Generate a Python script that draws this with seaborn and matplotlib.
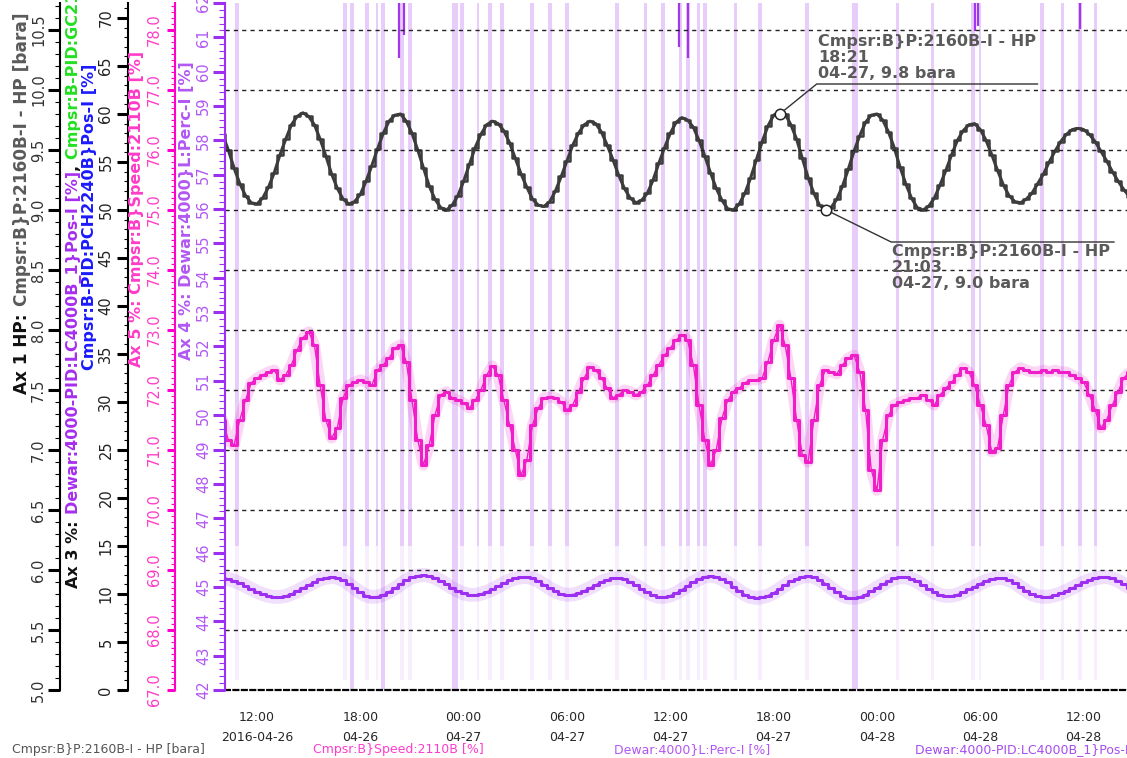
import numpy as np
import pandas as pd
import matplotlib
matplotlib.use("Agg")
import matplotlib.pyplot as plt
import matplotlib.dates as mdates
from matplotlib.ticker import FixedLocator, MultipleLocator, FormatStrFormatter, FuncFormatter
from matplotlib.transforms import IdentityTransform
from matplotlib.lines import Line2D
import seaborn as sns

sns.set_style("white")
plt.rcParams["font.family"] = ["DejaVu Sans"]

# ---------------------------------------------------------------- data
# archive samples, one every 20 minutes from 2016-04-26 10:00
SAMPLE_START = "2016-04-26 10:00"
SAMPLE_STEP = "20min"

hp_bara = [
    9.63, 9.50, 9.35, 9.22, 9.12, 9.06, 9.05, 9.10, 9.19, 9.31, 9.46, 9.59,
    9.71, 9.78, 9.81, 9.78, 9.71, 9.59, 9.45, 9.30, 9.18, 9.09, 9.05, 9.07,
    9.13, 9.24, 9.37, 9.51, 9.64, 9.74, 9.79, 9.80, 9.74, 9.64, 9.50, 9.35,
    9.20, 9.09, 9.02, 9.00, 9.04, 9.12, 9.24, 9.38, 9.52, 9.63, 9.71, 9.74,
    9.72, 9.66, 9.56, 9.43, 9.30, 9.19, 9.09, 9.04, 9.03, 9.07, 9.16, 9.28,
    9.41, 9.54, 9.64, 9.71, 9.74, 9.72, 9.65, 9.54, 9.42, 9.29, 9.18, 9.10,
    9.06, 9.08, 9.14, 9.25, 9.39, 9.52, 9.64, 9.73, 9.77, 9.75, 9.69, 9.58,
    9.45, 9.31, 9.18, 9.08, 9.01, 9.00, 9.05, 9.14, 9.27, 9.42, 9.57, 9.70,
    9.79, 9.82, 9.80, 9.71, 9.59, 9.43, 9.27, 9.14, 9.04, 9.00, 9.02, 9.09,
    9.20, 9.34, 9.49, 9.62, 9.73, 9.79, 9.80, 9.75, 9.65, 9.52, 9.36, 9.22,
    9.10, 9.02, 9.00, 9.03, 9.10, 9.21, 9.33, 9.46, 9.58, 9.66, 9.71, 9.72,
    9.67, 9.58, 9.46, 9.33, 9.21, 9.12, 9.07, 9.06, 9.09, 9.14, 9.22, 9.30,
    9.40, 9.49, 9.57, 9.63, 9.67, 9.68, 9.67, 9.63, 9.57, 9.49, 9.41, 9.32,
    9.24, 9.17, 9.11,
]

speed_pct = [
    71.50, 71.17, 71.08, 71.50, 71.83, 72.12, 72.20, 72.25, 72.30, 72.33, 72.17, 72.25,
    72.42, 72.67, 72.87, 72.97, 72.75, 72.08, 71.50, 71.20, 71.37, 71.87, 72.08, 72.13,
    72.17, 72.13, 72.08, 72.33, 72.42, 72.53, 72.70, 72.75, 72.47, 71.83, 71.17, 70.75,
    71.08, 71.58, 71.92, 71.97, 71.87, 71.83, 71.78, 71.70, 71.83, 72.00, 72.25, 72.40,
    72.25, 71.83, 71.42, 71.00, 70.58, 70.83, 71.42, 71.70, 71.87, 71.88, 71.87, 71.80,
    71.67, 71.75, 71.97, 72.20, 72.38, 72.33, 72.20, 72.03, 71.87, 71.92, 72.00, 71.97,
    71.92, 71.97, 72.08, 72.25, 72.42, 72.58, 72.70, 72.83, 72.92, 72.83, 72.42, 71.75,
    71.17, 70.75, 71.00, 71.53, 71.83, 71.97, 72.03, 72.12, 72.17, 72.17, 72.20, 72.47,
    72.83, 73.08, 72.75, 72.20, 71.50, 70.92, 70.80, 71.50, 72.08, 72.33, 72.30, 72.27,
    72.42, 72.53, 72.58, 72.30, 71.67, 70.67, 70.33, 71.17, 71.58, 71.75, 71.80, 71.83,
    71.87, 71.87, 71.92, 71.83, 71.75, 71.92, 72.03, 72.13, 72.25, 72.37, 72.30, 72.08,
    71.75, 71.42, 70.97, 71.03, 71.58, 72.08, 72.30, 72.37, 72.33, 72.30, 72.30, 72.33,
    72.30, 72.33, 72.30, 72.30, 72.25, 72.20, 72.13, 71.92, 71.67, 71.37, 71.50, 71.75,
    71.97, 72.20, 72.30,
]

level_pct = [
    45.26, 45.23, 45.18, 45.11, 45.03, 44.94, 44.86, 44.79, 44.74, 44.71, 44.71, 44.74,
    44.80, 44.88, 44.97, 45.06, 45.14, 45.22, 45.27, 45.29, 45.27, 45.20, 45.09, 44.96,
    44.84, 44.75, 44.71, 44.72, 44.77, 44.86, 44.96, 45.08, 45.19, 45.28, 45.33, 45.35,
    45.32, 45.27, 45.18, 45.08, 44.97, 44.88, 44.81, 44.77, 44.77, 44.80, 44.86, 44.93,
    45.02, 45.11, 45.19, 45.25, 45.28, 45.29, 45.25, 45.18, 45.07, 44.96, 44.87, 44.80,
    44.77, 44.78, 44.82, 44.89, 44.97, 45.06, 45.15, 45.21, 45.25, 45.26, 45.23, 45.15,
    45.05, 44.94, 44.84, 44.76, 44.71, 44.71, 44.75, 44.82, 44.92, 45.03, 45.14, 45.23,
    45.30, 45.32, 45.30, 45.23, 45.13, 45.01, 44.89, 44.78, 44.71, 44.68, 44.70, 44.75,
    44.83, 44.94, 45.05, 45.16, 45.24, 45.30, 45.32, 45.29, 45.21, 45.10, 44.97, 44.85,
    44.75, 44.69, 44.68, 44.71, 44.78, 44.87, 44.98, 45.08, 45.17, 45.25, 45.28, 45.28,
    45.24, 45.16, 45.05, 44.94, 44.84, 44.77, 44.74, 44.74, 44.78, 44.85, 44.93, 45.01,
    45.10, 45.18, 45.23, 45.26, 45.25, 45.20, 45.12, 45.00, 44.89, 44.79, 44.73, 44.71,
    44.72, 44.76, 44.81, 44.89, 44.97, 45.06, 45.13, 45.20, 45.25, 45.28, 45.29, 45.25,
    45.18, 45.08, 44.98,
]

# LC4000B_1 valve output: bins whose min/max envelope reaches into the axis
dip_times = [
    "2016-04-26 10:50", "2016-04-26 17:07", "2016-04-26 17:31", "2016-04-26 18:23",
    "2016-04-26 18:58", "2016-04-26 19:19", "2016-04-26 20:25", "2016-04-26 20:53",
    "2016-04-26 23:30", "2016-04-26 23:54", "2016-04-27 00:50", "2016-04-27 01:32",
    "2016-04-27 02:14", "2016-04-27 03:58", "2016-04-27 05:01", "2016-04-27 06:00",
    "2016-04-27 08:54", "2016-04-27 10:32", "2016-04-27 11:35", "2016-04-27 12:34",
    "2016-04-27 13:02", "2016-04-27 13:37", "2016-04-27 14:01", "2016-04-27 15:46",
    "2016-04-27 17:13", "2016-04-27 19:56", "2016-04-27 22:44", "2016-04-28 01:10",
    "2016-04-28 03:12", "2016-04-28 05:35", "2016-04-28 05:59", "2016-04-28 09:35",
    "2016-04-28 10:45", "2016-04-28 11:48", "2016-04-28 12:40",
]
dip_floor_pct = [
    15, 15, 0, 15, 15, 0, 15, 15, 0, 15, 15, 15,
    15, 15, 15, 15, 15, 15, 15, 15, 15, 15, 15, 15,
    15, 15, 0, 15, 15, 15, 15, 15, 15, 15, 15,
]
dip_minutes = [
    14, 14, 17, 14, 10, 17, 14, 14, 21, 14, 10, 14,
    14, 14, 14, 14, 14, 10, 14, 10, 14, 10, 14, 10,
    14, 14, 21, 10, 10, 14, 10, 14, 10, 14, 10,
]
# bins where the averaged valve output itself came down into view
spike_times = [
    "2016-04-26 20:15", "2016-04-26 20:33", "2016-04-27 12:31", "2016-04-27 13:02",
    "2016-04-28 05:42", "2016-04-28 05:52", "2016-04-28 11:48",
]
spike_pct = [65.8, 68.2, 67.0, 65.8, 68.6, 69.2, 68.9]

marker_times = ["2016-04-27 18:21", "2016-04-27 21:03"]
marker_bara = [9.8, 9.0]

legend_labels = [
    "Cmpsr:B}P:2160B-I - HP [bara]",
    "Cmpsr:B}Speed:2110B [%]",
    "Dewar:4000}L:Perc-I [%]",
    "Dewar:4000-PID:LC4000B_1}Pos-I [%]",
]

# ---------------------------------------------------------------- styling
W, H, DPI = 1127, 758, 100
C_HP = "#3c3c3c"
C_HP_LIGHT = "#8c8c8c"
C_SPEED = "#f01ec8"
C_SPEED_AX = "#ff00cc"
C_SPEED_TXT = "#ff3cc8"
C_LEVEL = "#9d2ff0"
C_LEVEL_TXT = "#b257f3"
C_VALVE = "#a236ef"
C_STRIPE = "#e8cdfa"
C_STRIPE_FAINT = "#f7effd"

fig = plt.figure(figsize=(W / DPI, H / DPI), dpi=DPI)
PL, PR, PB, PT = 225, 1127, 690, 3          # plot box in image pixels
ax3 = fig.add_axes([PL / W, (H - PB) / H, (PR - PL) / W, (PB - PT) / H])
ax1 = ax3.twinx()
ax5 = ax3.twinx()
ax4 = ax3.twinx()

t_samples = pd.date_range(SAMPLE_START, periods=len(hp_bara), freq=SAMPLE_STEP)
t_lo = pd.Timestamp("2016-04-26 10:08:30")
t_hi = pd.Timestamp("2016-04-28 14:31:00")

# ---- Ax 3: valve output envelope (behind everything)
dip_x = mdates.date2num(pd.to_datetime(dip_times))
dip_w = np.array(dip_minutes) / 1440.0
AX3_TOP = 71.56
ax3.bar(dip_x, [100 - 1] * len(dip_x), bottom=1, width=dip_w,
        color=C_STRIPE_FAINT, linewidth=0, zorder=1)
ax3.bar(dip_x, [100 - f for f in dip_floor_pct], bottom=dip_floor_pct, width=dip_w,
        color=C_STRIPE, linewidth=0, zorder=2)
ax3.vlines(mdates.date2num(pd.to_datetime(spike_times)), spike_pct, 100,
           color=C_VALVE, lw=1.6, zorder=3)
ax3.set_ylim(0, AX3_TOP)

# ---- Ax 1: HP pressure
sns.lineplot(x=t_samples, y=hp_bara, ax=ax1, color=C_HP_LIGHT, lw=1.0,
             estimator=None, errorbar=None)
sns.lineplot(x=t_samples, y=hp_bara, ax=ax1, color=C_HP, lw=2.2,
             estimator=None, errorbar=None)
sns.lineplot(x=t_samples, y=hp_bara, ax=ax1, color=C_HP, lw=1.8,
             drawstyle="steps-mid", estimator=None, errorbar=None)
ax1.set_ylim(5.0, 5.0 + (PB - PT) / 120.0)

# ---- Ax 5: compressor speed
sns.lineplot(x=t_samples, y=speed_pct, ax=ax5, color=C_SPEED, lw=8, alpha=0.18,
             estimator=None, errorbar=None)
sns.lineplot(x=t_samples, y=speed_pct, ax=ax5, color=C_SPEED, lw=1.0,
             estimator=None, errorbar=None)
sns.lineplot(x=t_samples, y=speed_pct, ax=ax5, color=C_SPEED, lw=2.2,
             drawstyle="steps-mid", estimator=None, errorbar=None)
ax5.set_ylim(67.0, 67.0 + (PB - PT) / 60.0)

# ---- Ax 4: dewar level
sns.lineplot(x=t_samples, y=level_pct, ax=ax4, color=C_LEVEL, lw=10, alpha=0.15,
             estimator=None, errorbar=None)
sns.lineplot(x=t_samples, y=level_pct, ax=ax4, color=C_LEVEL, lw=1.0,
             estimator=None, errorbar=None)
sns.lineplot(x=t_samples, y=level_pct, ax=ax4, color=C_LEVEL, lw=2.2,
             drawstyle="steps-mid", estimator=None, errorbar=None)
ax4.set_ylim(42.0, 62.0)

for ax in (ax3, ax1, ax5, ax4):
    ax.set_xlim(t_lo, t_hi)
    ax.set_xlabel("")
    ax.set_ylabel("")

# ---- y axes stacked on the left
def left_axis(ax, offset_px, color, label_color, major, minor, fmt,
              maj_len, min_len, pad):
    for side in ("top", "right", "bottom"):
        ax.spines[side].set_visible(False)
    sp = ax.spines["left"]
    sp.set_visible(True)
    sp.set_position(("axes", offset_px / (PR - PL)))
    sp.set_color(color)
    sp.set_linewidth(1.5)
    ax.yaxis.tick_left()
    ax.yaxis.set_label_position("left")
    ax.yaxis.set_major_locator(MultipleLocator(major))
    ax.yaxis.set_minor_locator(MultipleLocator(minor))
    ax.yaxis.set_major_formatter(FormatStrFormatter(fmt))
    ax.tick_params(axis="y", which="major", direction="out", length=maj_len,
                   width=2.2, color=color, labelcolor=label_color,
                   labelsize=10.5, labelrotation=90, pad=pad)
    ax.tick_params(axis="y", which="minor", direction="out", length=min_len,
                   width=0.8, color=color)
    for tk in ax.yaxis.get_major_ticks():
        tk.label1.set_verticalalignment("center")

left_axis(ax1, 60 - PL, "#000000", "#333333", 0.5, 0.1, "%.1f", 8.6, 3.6, 1.5)
left_axis(ax3, 128 - PL, "#000000", "#222222", 5, 1, "%d", 8.0, 3.2, 2.5)
left_axis(ax5, 175 - PL, C_SPEED_AX, C_SPEED_TXT, 1.0, 0.1, "%.1f", 5.8, 2.9, 3.5)
left_axis(ax4, 0, C_LEVEL, C_LEVEL_TXT, 1, 0.2, "%d", 8.6, 4.0, 1.5)

# dashed grid follows the HP axis
ax1.yaxis.grid(True, which="major", linestyle=(0, (3, 3)), color="#222222", lw=1.0)
ax1.set_axisbelow(False)

# ---- time axis (hourly minor ticks, 6-hour labels)
ax3.spines["bottom"].set_visible(True)
ax3.spines["bottom"].set_color("#000000")
ax3.spines["bottom"].set_linewidth(1.6)
ax3.spines["bottom"].set_linestyle((0, (2.2, 1.6)))
major_t = pd.date_range("2016-04-26 12:00", "2016-04-28 12:00", freq="6h")
ax3.xaxis.set_major_locator(FixedLocator(mdates.date2num(major_t)))
ax3.xaxis.set_minor_locator(mdates.HourLocator())

def time_label(x, pos):
    d = mdates.num2date(x)
    if pos == 0:
        return d.strftime("%H:%M\n%Y-%m-%d")
    return d.strftime("%H:%M\n%m-%d")

ax3.xaxis.set_major_formatter(FuncFormatter(time_label))
ax3.tick_params(axis="x", which="major", direction="out", length=5.8, width=2.0,
                color="#000000", labelsize=9, pad=9)
ax3.tick_params(axis="x", which="minor", direction="out", length=2.9, width=0.8,
                color="#000000")
for lab in ax3.get_xticklabels():
    lab.set_linespacing(1.7)

# ---- marker annotations on the HP trace
marker_t = pd.to_datetime(marker_times)
ax1.plot(marker_t, marker_bara, "o", ms=7.5, mfc="white", mec="#222222",
         mew=1.1, zorder=6, clip_on=False)

ident = IdentityTransform()
for ts, val, (dx, dy, rule_len, above) in zip(
        marker_t, marker_bara, [(37, 30, 221, True), (65, -32, 223, False)]):
    px, py = ax1.transData.transform((mdates.date2num(ts), val))
    cx, cy = px + dx, py + dy
    dist = np.hypot(dx, dy)
    sx, sy = px + dx / dist * 5.2, py + dy / dist * 5.2
    fig.add_artist(Line2D([sx, cx, cx + rule_len], [sy, cy, cy],
                          color="#333333", lw=1.0, transform=ident))
    txt = f"Cmpsr:B}}P:2160B-I - HP\n{ts:%H:%M}\n{ts:%m-%d}, {val:.1f} bara"
    if above:
        fig.text(cx + 1, cy + 3, txt, transform=ident, ha="left", va="bottom",
                 fontsize=11.5, fontweight="bold", color="#5a5a5a", linespacing=1.1)
    else:
        fig.text(cx + 1, cy - 2, txt, transform=ident, ha="left", va="top",
                 fontsize=11.5, fontweight="bold", color="#5a5a5a", linespacing=1.1)

# ---- rotated axis titles, built piece by piece
renderer = fig.canvas.get_renderer()

def vertical_title(x_img, parts, bottom_img=None, center_img=None, size=11.5):
    arts, heights, gaps = [], [], []
    for text, color, gap in parts:
        a = fig.text(0, 0, text, rotation=90, color=color, fontsize=size,
                     fontweight="bold", ha="center", va="bottom", transform=ident)
        arts.append(a)
        heights.append(a.get_window_extent(renderer).height)
        gaps.append(gap)
    total = sum(heights) + sum(gaps[1:])
    y = (H - bottom_img) if bottom_img is not None else (H - center_img) - total / 2
    for i, (a, h) in enumerate(zip(arts, heights)):
        if i:
            y += gaps[i]
        a.set_position((x_img, y))
        y += h

vertical_title(22, [("Ax 1 HP:", "#111111", 0),
                    ("Cmpsr:B}P:2160B-I - HP [bara]", "#5a5a5a", 8)],
               center_img=203, size=12.2)
vertical_title(74, [("Ax 3 %:", "#111111", 0),
                    ("Dewar:4000-PID:LC4000B_1}Pos-I [%]", "#a62ef0", 6),
                    (",", "#111111", 0),
                    ("Cmpsr:B-PID:GC2110B}Pos-I [%]", "#22e022", 6)], bottom_img=588)
vertical_title(90, [("Cmpsr:B-PID:PCH2240B}Pos-I [%]", "#1a1aff", 0)], center_img=217)
vertical_title(137, [("Ax 5 %: Cmpsr:B}Speed:2110B [%]", C_SPEED_TXT, 0)], center_img=209)
vertical_title(187, [("Ax 4 %: Dewar:4000}L:Perc-I [%]", C_LEVEL_TXT, 0)], center_img=211)

# ---- trace legend along the bottom edge
legend_colors = ["#555555", "#ff3ccf", "#b455f5", "#a64cf0"]
for i, (lab, col) in enumerate(zip(legend_labels, legend_colors)):
    fig.text(12 + 301 * i, H - 750, lab, transform=ident, ha="left", va="center",
             fontsize=9, color=col)

fig.savefig("out.png", dpi=DPI)
